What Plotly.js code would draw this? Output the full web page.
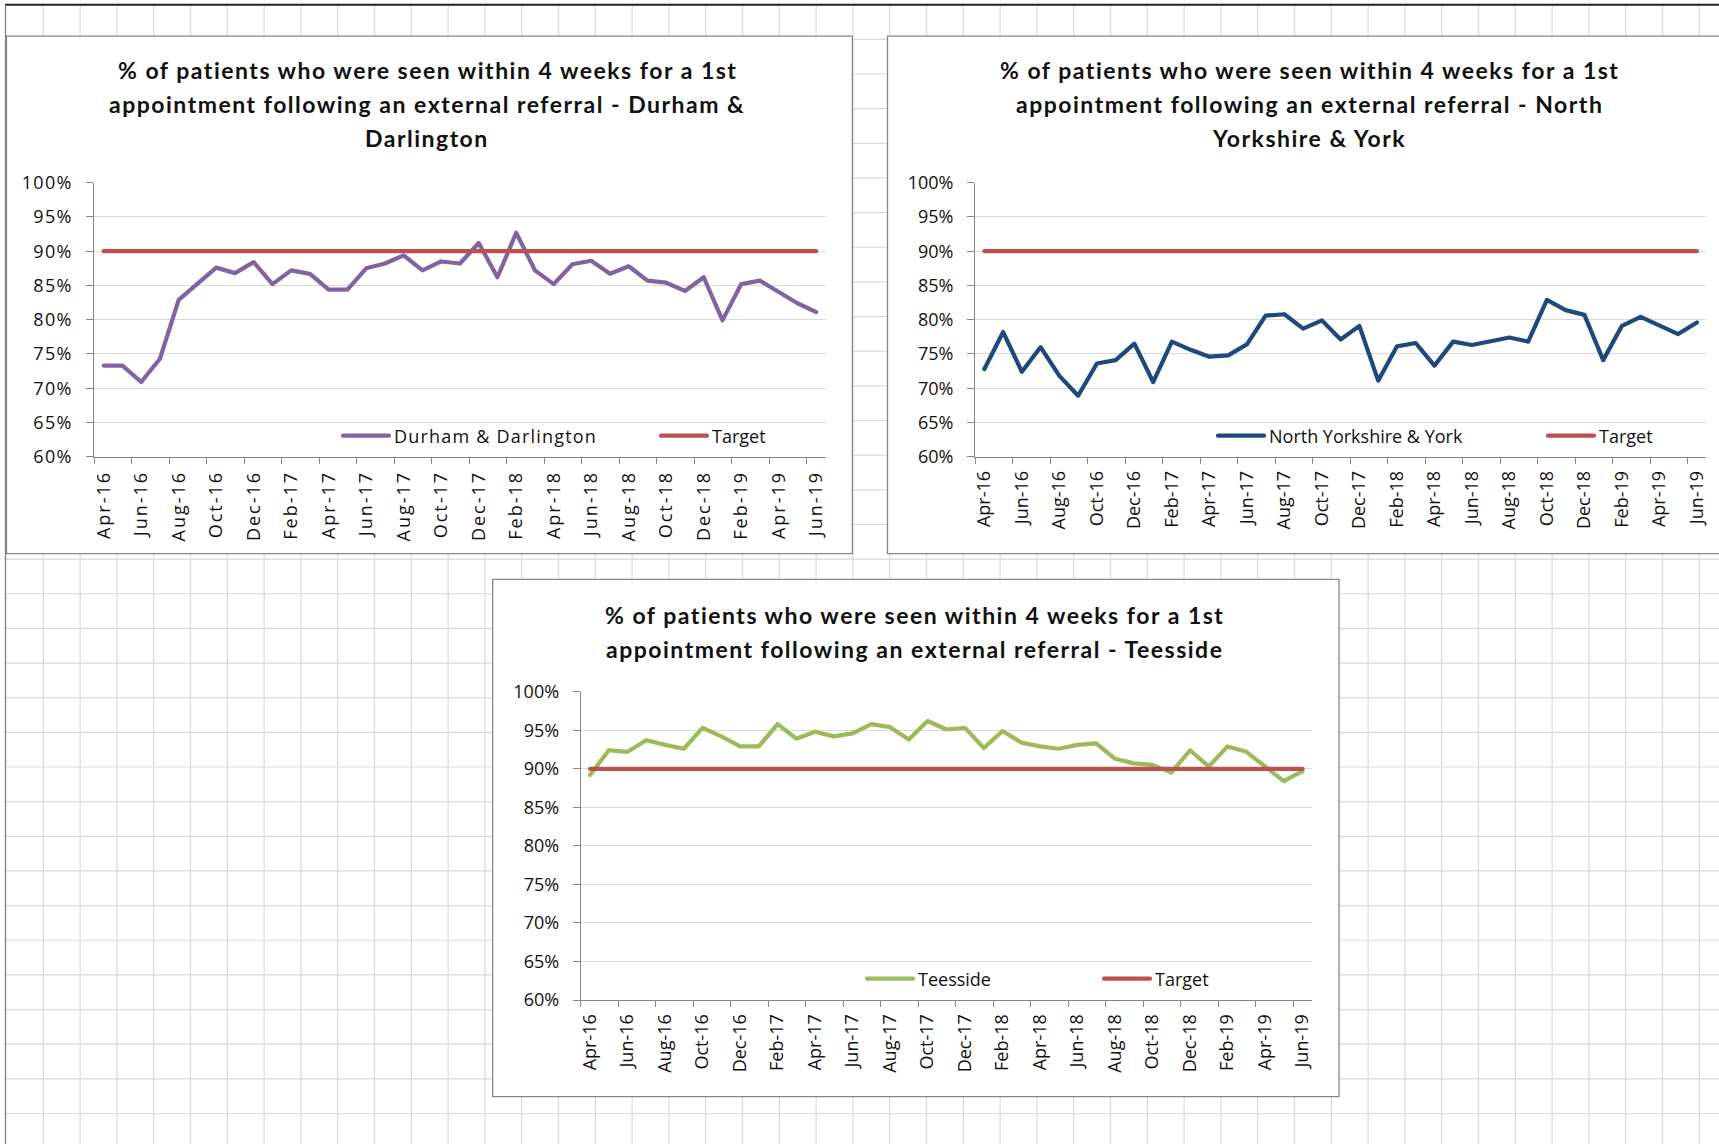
<!DOCTYPE html>
<html>
<head>
<meta charset="utf-8">
<script src="https://cdn.plot.ly/plotly-3.0.1.min.js"></script>
<style>
  html, body { margin: 0; padding: 0; background: #ffffff; overflow: hidden; width: 1719px; height: 1144px; }
  #chart { width: 1719px; height: 1144px; overflow: hidden; }
  .xtick text { letter-spacing: 2px; }
  .ytick text { letter-spacing: 1.3px; }
  .legendtext { letter-spacing: 1.2px; }
  .annotation-text { letter-spacing: 1.5px; }
  .scatterlayer .js-line, .legendlines path { stroke-linecap: round; stroke-linejoin: round; }
</style>
</head>
<body>
<div id="chart"></div>
<script>
// ---------- data ----------
const months = ['Apr-16','May-16','Jun-16','Jul-16','Aug-16','Sep-16','Oct-16','Nov-16','Dec-16',
  'Jan-17','Feb-17','Mar-17','Apr-17','May-17','Jun-17','Jul-17','Aug-17','Sep-17','Oct-17','Nov-17','Dec-17',
  'Jan-18','Feb-18','Mar-18','Apr-18','May-18','Jun-18','Jul-18','Aug-18','Sep-18','Oct-18','Nov-18','Dec-18',
  'Jan-19','Feb-19','Mar-19','Apr-19','May-19','Jun-19'];

const durhamDarlington = [73.3,73.3,70.9,74.3,82.9,85.2,87.6,86.8,88.4,85.2,87.2,86.7,84.4,84.4,87.5,88.2,89.4,87.2,88.5,88.2,
  91.2,86.2,92.7,87.2,85.2,88.1,88.6,86.7,87.8,85.7,85.4,84.2,86.2,79.9,85.2,85.7,84.1,82.4,81.1];

const northYorkshireYork = [72.8,78.2,72.4,76.0,71.8,68.9,73.6,74.1,76.5,70.9,76.8,75.6,74.6,74.8,76.4,80.6,80.8,78.7,79.9,77.1,
  79.1,71.1,76.1,76.6,73.3,76.8,76.3,76.8,77.4,76.8,82.9,81.4,80.7,74.1,79.1,80.4,79.1,77.9,79.6];

const teesside = [89.2,92.4,92.2,93.7,93.1,92.6,95.3,94.2,92.9,92.9,95.8,93.9,94.8,94.2,94.6,95.8,95.4,93.8,96.2,95.1,
  95.3,92.7,94.9,93.4,92.9,92.6,93.1,93.3,91.3,90.7,90.5,89.5,92.4,90.3,92.9,92.2,90.3,88.4,89.7];

const target = [90,90,90,90,90,90,90,90,90,90,90,90,90,90,90,90,90,90,90,90,
  90,90,90,90,90,90,90,90,90,90,90,90,90,90,90,90,90,90,90];

const seriesNames = ['Durham & Darlington', 'North Yorkshire & York', 'Teesside'];
const targetName = 'Target';

const titleLines = [
  ['% of patients who were seen within 4 weeks for a 1st', 'appointment following an external referral - Durham &', 'Darlington'],
  ['% of patients who were seen within 4 weeks for a 1st', 'appointment following an external referral - North', 'Yorkshire & York'],
  ['% of patients who were seen within 4 weeks for a 1st', 'appointment following an external referral - Teesside']
];

// ---------- layout helpers ----------
const W = 1719, H = 1144;
const fx = p => p / W;
const fy = p => 1 - p / H;

const colors = { durham: '#8064A2', north: '#1F497D', tees: '#9BBB59', target: '#C0504D' };
const axisGray = '#868686';
const textColor = '#111111';
const tickFont = { family: 'Open Sans', size: 18, color: textColor };

function xAxis(x0, x1, anchor) {
  return {
    domain: [fx(x0), fx(x1)], anchor: anchor,
    type: 'category', categoryorder: 'array', categoryarray: months,
    range: [-0.5, months.length - 0.5],
    tickmode: 'linear', tick0: 0, dtick: 2, tickson: 'boundaries',
    ticks: 'outside', ticklen: 6, tickwidth: 1, tickcolor: axisGray,
    showline: true, linecolor: axisGray, linewidth: 1,
    showgrid: false, zeroline: false, tickangle: -90,
    tickfont: tickFont, ticklabelstandoff: 6, fixedrange: true
  };
}
function yAxis(y0, y1, anchor) {
  return {
    domain: [fy(y0), fy(y1)], anchor: anchor,
    range: [60, 100], tickmode: 'linear', tick0: 60, dtick: 5, ticksuffix: '%',
    ticks: 'outside', ticklen: 7, tickwidth: 1, tickcolor: axisGray,
    showline: true, linecolor: axisGray, linewidth: 1,
    showgrid: true, gridcolor: '#D9D9D9', gridwidth: 1, zeroline: false,
    tickfont: tickFont, ticklabelstandoff: 10, fixedrange: true
  };
}

// ---------- traces ----------
const traces = [
  { x: months, y: durhamDarlington, xaxis: 'x', yaxis: 'y', name: seriesNames[0], legend: 'legend',
    mode: 'lines', line: { color: colors.durham, width: 4.2 } },
  { x: months, y: target, xaxis: 'x', yaxis: 'y', name: targetName, legend: 'legend2',
    mode: 'lines', line: { color: colors.target, width: 4.2 } },
  { x: months, y: northYorkshireYork, xaxis: 'x2', yaxis: 'y2', name: seriesNames[1], legend: 'legend3',
    mode: 'lines', line: { color: colors.north, width: 4.2 } },
  { x: months, y: target, xaxis: 'x2', yaxis: 'y2', name: targetName, legend: 'legend4',
    mode: 'lines', line: { color: colors.target, width: 4.2 } },
  { x: months, y: teesside, xaxis: 'x3', yaxis: 'y3', name: seriesNames[2], legend: 'legend5',
    mode: 'lines', line: { color: colors.tees, width: 4.2 } },
  { x: months, y: target, xaxis: 'x3', yaxis: 'y3', name: targetName, legend: 'legend6',
    mode: 'lines', line: { color: colors.target, width: 4.2 } }
];

// ---------- background: spreadsheet grid + chart boxes ----------
const shapes = [];
for (let k = 0; k <= 46; k++) {
  const xv = 43.3 + 36.8 * k;
  if (xv > W) break;
  shapes.push({ type: 'line', xref: 'paper', yref: 'paper', layer: 'below',
    x0: fx(xv), x1: fx(xv), y0: fy(4.7), y1: 0, line: { color: '#D9D9D9', width: 1.2 } });
}
for (let k = 1; k <= 33; k++) {
  const yv = 4.7 + 34.65 * k;
  if (yv > H) break;
  shapes.push({ type: 'line', xref: 'paper', yref: 'paper', layer: 'below',
    x0: fx(5), x1: 1, y0: fy(yv), y1: fy(yv), line: { color: '#D9D9D9', width: 1.2 } });
}
shapes.push({ type: 'line', xref: 'paper', yref: 'paper', layer: 'below',
  x0: fx(5), x1: 1, y0: fy(4.7), y1: fy(4.7), line: { color: '#222222', width: 2 } });
shapes.push({ type: 'line', xref: 'paper', yref: 'paper', layer: 'below',
  x0: fx(5.5), x1: fx(5.5), y0: fy(4.7), y1: 0, line: { color: '#7F7F7F', width: 1.3 } });

const boxes = [[6.5, 36.2, 852.4, 553.6], [887.5, 36.2, 1722, 553.6], [492.7, 579.3, 1339, 1096.7]];
boxes.forEach(b => shapes.push({ type: 'rect', xref: 'paper', yref: 'paper', layer: 'below',
  x0: fx(b[0]), x1: Math.min(1.002, fx(b[2])), y0: fy(b[3]), y1: fy(b[1]),
  fillcolor: '#FFFFFF', line: { color: axisGray, width: 1.3 } }));

// ---------- titles ----------
const titleFont = { family: 'Lato', size: 23, color: textColor, weight: 'bold' };
const titlePos = [ { cx: 427, ys: [70, 104, 138] }, { cx: 1309, ys: [70, 104, 138] }, { cx: 914, ys: [615, 649] } ];
const annotations = [];
titleLines.forEach((lines, i) => {
  lines.forEach((t, j) => annotations.push({
    xref: 'paper', yref: 'paper', x: fx(titlePos[i].cx), y: fy(titlePos[i].ys[j]),
    xanchor: 'center', yanchor: 'middle', showarrow: false, text: t, font: titleFont
  }));
});

// ---------- legends (one entry each, placed like the Excel legends) ----------
function legendAt(px, py) {
  return { orientation: 'h', x: fx(px), y: fy(py), xanchor: 'left', yanchor: 'middle',
    bgcolor: 'rgba(0,0,0,0)', borderwidth: 0, itemwidth: 46,
    font: { family: 'Open Sans', size: 18, color: textColor } };
}

const layout = {
  width: W, height: H, autosize: false,
  margin: { l: 0, r: 0, t: 0, b: 0, pad: 0 },
  paper_bgcolor: '#FFFFFF', plot_bgcolor: 'rgba(0,0,0,0)',
  font: { family: 'Open Sans', color: textColor },
  xaxis: xAxis(94.3, 825.6, 'y'), yaxis: yAxis(456.7, 182.7, 'x'),
  xaxis2: xAxis(975, 1706.3, 'y2'), yaxis2: yAxis(456.7, 182.7, 'x2'),
  xaxis3: xAxis(580.7, 1311.9, 'y3'), yaxis3: yAxis(1000, 691.7, 'x3'),
  legend: legendAt(338, 436), legend2: legendAt(656, 436),
  legend3: legendAt(1213, 436), legend4: legendAt(1543, 436),
  legend5: legendAt(862, 979), legend6: legendAt(1099, 979),
  shapes: shapes, annotations: annotations, showlegend: true
};

Plotly.newPlot('chart', traces, layout, { staticPlot: true, displayModeBar: false });
</script>
</body>
</html>
